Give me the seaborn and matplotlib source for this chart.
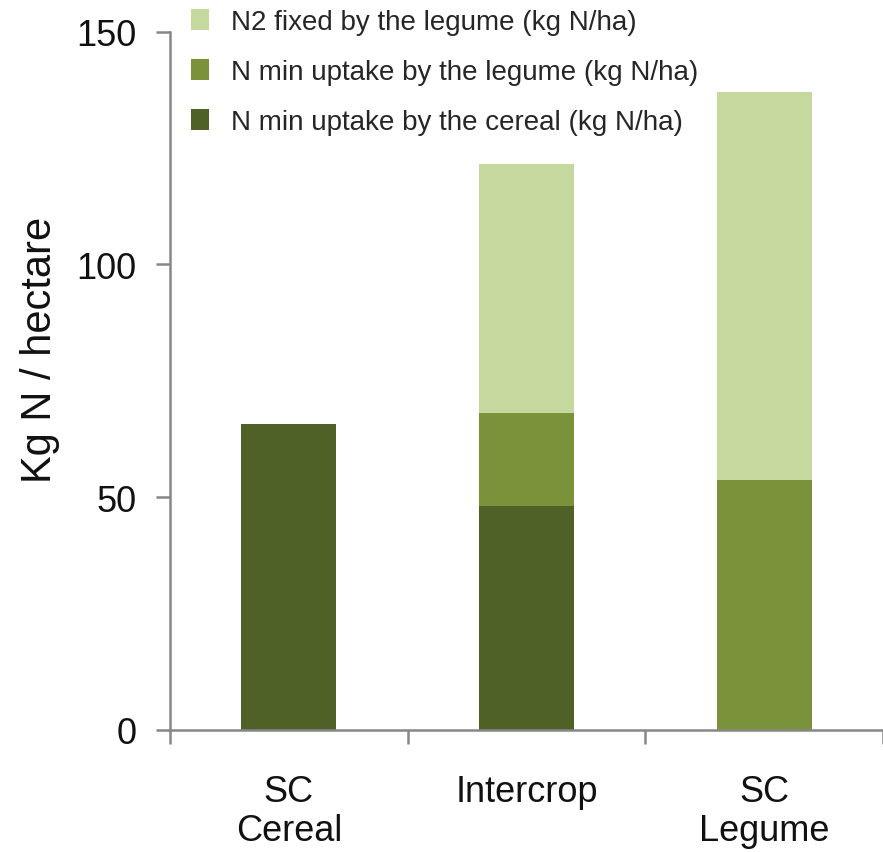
import numpy as np
import pandas as pd
import matplotlib
matplotlib.use("Agg")
import matplotlib.pyplot as plt
import seaborn as sns
from matplotlib.patches import Patch

# ---- data ----
categories = ["SC\nCereal", "Intercrop", "SC\nLegume"]
n_min_cereal = [65.7, 48.1, 0.0]
n_min_legume = [0.0, 19.9, 53.7]
n2_fixed = [0.0, 53.5, 83.3]
legend_labels = [
    "N2 fixed by the legume (kg N/ha)",
    "N min uptake by the legume (kg N/ha)",
    "N min uptake by the cereal (kg N/ha)",
]
y_ticks = [0, 50, 100, 150]
y_label = "Kg N / hectare"

c_light = "#c5d89e"
c_mid = "#7a923a"
c_dark = "#4f6127"
axis_gray = "#878787"

sns.set_theme(style="white")
plt.rcParams["font.family"] = ["Liberation Sans", "DejaVu Sans"]

fig = plt.figure(figsize=(8.83, 8.53), dpi=100)
ax = fig.add_axes([170 / 883, 1 - 731 / 853, 1 - 170 / 883, (731 - 32.7) / 853])

df = pd.DataFrame({
    "cat": categories,
    "cereal": n_min_cereal,
    "legume": n_min_legume,
    "fixed": n2_fixed,
})
df["lvl2"] = df["cereal"] + df["legume"]
df["lvl3"] = df["lvl2"] + df["fixed"]

for col, colr in [("lvl3", c_light), ("lvl2", c_mid), ("cereal", c_dark)]:
    sns.barplot(data=df, x="cat", y=col, order=categories, color=colr,
                saturation=1, width=0.4, ax=ax, linewidth=0)

ax.set_xlim(-0.5, 2.5)
ax.set_ylim(0, 150)
ax.set_xlabel("")
ax.set_ylabel("")

# x ticks: major at boundaries (no labels), minor at centers (labels)
ax.set_xticks([-0.5, 0.5, 1.5, 2.5])
ax.set_xticklabels([])
ax.set_xticks([0, 1, 2], minor=True)
ax.set_xticklabels(categories, minor=True, fontsize=26, color="#111111",
                   linespacing=1.15)
ax.tick_params(axis="x", which="minor", length=0, pad=32)
ax.tick_params(axis="x", which="major", length=10, width=1.8, color=axis_gray,
               direction="out", bottom=True)

ax.set_yticks(y_ticks)
ax.set_yticklabels([str(t) for t in y_ticks], fontsize=26, color="#111111")
ax.tick_params(axis="y", length=10, width=1.8, color=axis_gray,
               direction="out", left=True, pad=14)

for s in ["top", "right"]:
    ax.spines[s].set_visible(False)
for s in ["left", "bottom"]:
    ax.spines[s].set_color(axis_gray)
    ax.spines[s].set_linewidth(1.8)

fig.text(40 / 883, 1 - 350 / 853, y_label, rotation=90, ha="center",
         va="center", fontsize=30, color="#111111")

handles = [Patch(facecolor=c, edgecolor="none", label=l)
           for c, l in zip([c_light, c_mid, c_dark], legend_labels)]
ax.legend(handles=handles, loc="upper left",
          bbox_to_anchor=(191 / 883, 1 - 10 / 853),
          bbox_transform=fig.transFigure, frameon=False, fontsize=20,
          handlelength=0.65, handleheight=0.8, handletextpad=0.8,
          labelspacing=0.85, borderaxespad=0, borderpad=0)

fig.savefig("out.png", dpi=100)
